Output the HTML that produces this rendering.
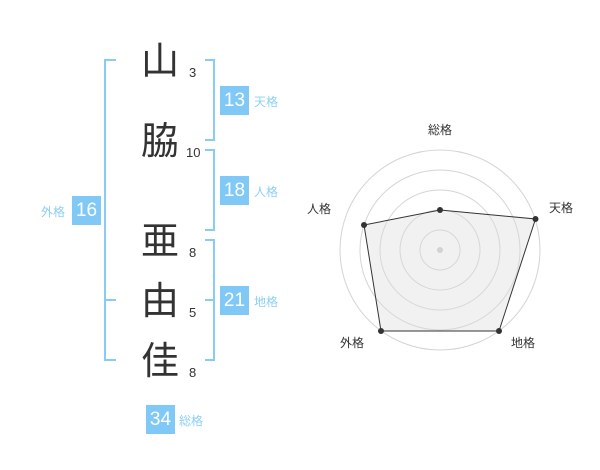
<!DOCTYPE html>
<html><head><meta charset="utf-8"><style>
body{margin:0;width:600px;height:470px;background:#fff;position:relative;overflow:hidden;font-family:"Liberation Sans","Noto Sans CJK JP",sans-serif}
.k{position:absolute;left:138px;width:44px;text-align:center;font-size:38px;line-height:40px;color:#333}
.n{position:absolute;font-size:13px;color:#333;line-height:14px}
.b{position:absolute;width:29px;height:29px;background:#80c9f6;color:#fff;font-size:19px;line-height:29px;text-align:center}
.l{position:absolute;font-size:12px;color:#8ccff5;line-height:14px}
</style></head><body>
<svg width="600" height="470" style="position:absolute;left:0;top:0">
<g stroke="#88ccf6" stroke-width="2" fill="none">
<path d="M116 60H105V360H116M105 300H116"/>
<path d="M205 60H214V140H205"/>
<path d="M205 150H214V230H205"/>
<path d="M205 240H214V360H205M205 300H214"/>
</g>
<g fill="none" stroke="#d4d4d4" stroke-width="1">
<circle cx="440" cy="250" r="20"/><circle cx="440" cy="250" r="40"/><circle cx="440" cy="250" r="60"/><circle cx="440" cy="250" r="80"/><circle cx="440" cy="250" r="100"/>
</g>
<circle cx="440" cy="250" r="3" fill="#ccc"/>
<polygon points="440,210 535.5,219 499,331 381,331 364,225" fill="rgba(220,220,220,0.4)" stroke="#333" stroke-width="1"/>
<g fill="#333"><circle cx="440" cy="210" r="3"/><circle cx="535.5" cy="219" r="3"/><circle cx="499" cy="331" r="3"/><circle cx="381" cy="331" r="3"/><circle cx="364" cy="225" r="3"/></g>
<g font-size="12" fill="#333" font-family="Liberation Sans,Noto Sans CJK JP,sans-serif">
<text x="440" y="134" text-anchor="middle">総格</text>
<text x="549" y="212">天格</text>
<text x="307" y="213">人格</text>
<text x="340" y="347">外格</text>
<text x="511" y="347">地格</text>
</g>
</svg>
<div class="k" style="top:42px">山</div>
<div class="k" style="top:122px">脇</div>
<div class="k" style="top:222px">亜</div>
<div class="k" style="top:282px">由</div>
<div class="k" style="top:342px">佳</div>
<div class="n" style="left:189px;top:66px">3</div>
<div class="n" style="left:186px;top:146px">10</div>
<div class="n" style="left:189px;top:246px">8</div>
<div class="n" style="left:189px;top:306px">5</div>
<div class="n" style="left:189px;top:366px">8</div>
<div class="b" style="left:220px;top:86px">13</div><div class="l" style="left:254px;top:95px">天格</div>
<div class="b" style="left:220px;top:176px">18</div><div class="l" style="left:254px;top:185px">人格</div>
<div class="b" style="left:220px;top:286px">21</div><div class="l" style="left:254px;top:295px">地格</div>
<div class="b" style="left:72px;top:196px">16</div><div class="l" style="left:41px;top:205px">外格</div>
<div class="b" style="left:146px;top:405px">34</div><div class="l" style="left:179px;top:414px">総格</div>
</body></html>
